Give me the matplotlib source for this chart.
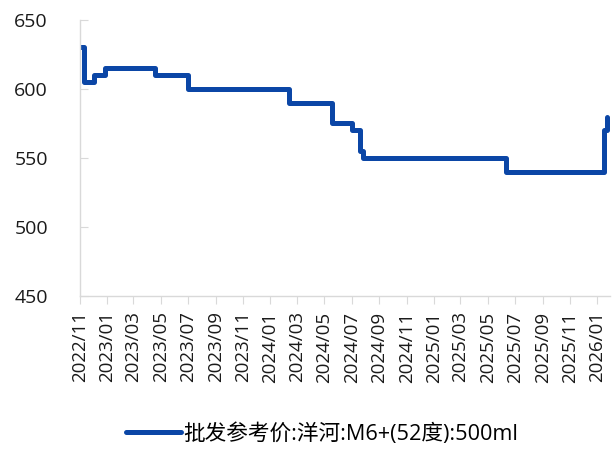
import matplotlib
matplotlib.use("Agg")
import matplotlib.pyplot as plt
import matplotlib.dates as mdates
import numpy as np
import pandas as pd

plt.rcParams['font.family'] = ['Open Sans', 'Noto Sans CJK SC', 'DejaVu Sans']

# price change points (date, price), drawn as a step line
dates = ["2022-11-01", "2022-11-10", "2022-12-02", "2022-12-27", "2023-04-18",
         "2023-06-30", "2024-02-12", "2024-05-19", "2024-07-01", "2024-07-19",
         "2024-07-26", "2025-06-10", "2026-01-16", "2026-01-23", "2026-01-24"]
prices = [630, 605, 610, 615, 610,
          600, 590, 575, 570, 555,
          550, 540, 570, 580, 580]
label = "批发参考价:洋河:M6+(52度):500ml"

x = pd.to_datetime(dates)
y = np.array(prices)

fig = plt.figure(figsize=(6.14, 4.5), dpi=100)
ax = fig.add_axes([0.130, 0.342, 0.863, 0.614])

ax.plot(x, y, drawstyle="steps-post", color="#0b46a6", lw=3.6,
        solid_capstyle="round", solid_joinstyle="round", label=label)

ax.set_ylim(450, 650)
ax.set_yticks([450, 500, 550, 600, 650])
ax.set_xlim(pd.Timestamp("2022-11-01"), pd.Timestamp("2026-01-29"))
ax.xaxis.set_major_locator(mdates.MonthLocator(bymonth=[1, 3, 5, 7, 9, 11]))
ax.xaxis.set_major_formatter(mdates.DateFormatter("%Y/%m"))

for s in ["top", "right"]:
    ax.spines[s].set_visible(False)
for s in ["left", "bottom"]:
    ax.spines[s].set_color("#d9d9d9")
    ax.spines[s].set_linewidth(1.0)

ax.tick_params(axis="y", direction="in", length=6, color="#d9d9d9",
               labelsize=14, pad=23, labelcolor="#1a1a1a")
ax.tick_params(axis="x", direction="out", length=6, color="#d9d9d9",
               labelsize=13.5, pad=5, labelrotation=90, labelcolor="#1a1a1a")

fig.legend(loc="center", bbox_to_anchor=(0.525, 0.035), frameon=False,
           fontsize=15.6, handlelength=2.55, handletextpad=0.1)

fig.savefig("out.png", dpi=100)
